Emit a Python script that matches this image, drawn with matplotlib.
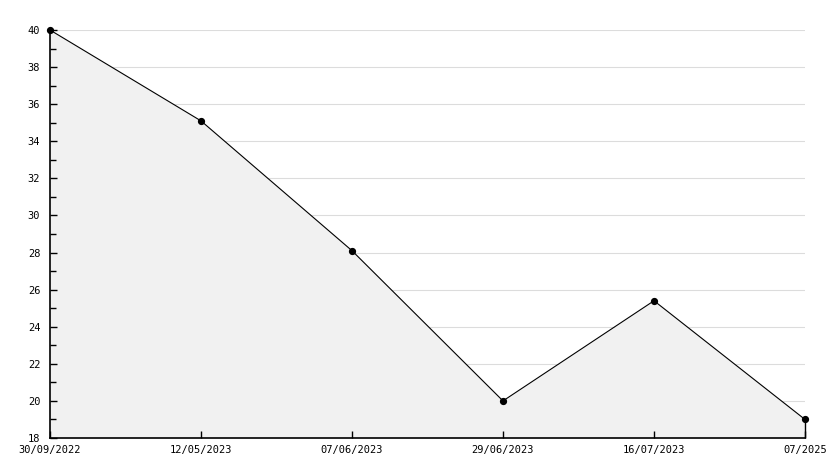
import matplotlib
matplotlib.use("Agg")
import matplotlib.pyplot as plt
from matplotlib.ticker import MultipleLocator

dates = ["30/09/2022", "12/05/2023", "07/06/2023", "29/06/2023", "16/07/2023", "07/2025"]
values = [40, 35.1, 28.1, 20, 25.4, 19.0]

W, H = 834, 468
fig = plt.figure(figsize=(W / 100, H / 100), dpi=100)
ax = fig.add_axes([50 / W, 1 - 438 / H, (805 - 50) / W, (438 - 30) / H])

x = list(range(len(values)))
ax.fill_between(x, values, 18, color="#f1f1f1", zorder=1, linewidth=0)
ax.vlines(x[-1], 18, values[-1], color="black", linewidth=1.0, zorder=3, clip_on=False)
ax.plot(x, values, color="black", linewidth=0.8, marker="o", markersize=4.2,
        markerfacecolor="black", markeredgecolor="black", zorder=3, clip_on=False)

ax.set_xlim(0, len(values) - 1)
ax.set_ylim(18, 40)
ax.yaxis.set_major_locator(MultipleLocator(2))
ax.yaxis.set_minor_locator(MultipleLocator(1))
for yv in ax.get_yticks():
    if 18 < yv <= 40:
        ax.axhline(yv, color="#dcdcdc", linewidth=0.8, zorder=0.5)

ax.set_xticks(x)
ax.set_xticklabels(dates)
for s in ["top", "right"]:
    ax.spines[s].set_visible(False)
for s in ["left", "bottom"]:
    ax.spines[s].set_linewidth(1.2)
    ax.spines[s].set_zorder(4)

ax.tick_params(axis="both", which="major", direction="in", length=5, width=1,
               labelsize=7.5)
ax.tick_params(axis="y", which="minor", direction="in", length=4, width=1)
ax.tick_params(axis="y", pad=7)
ax.tick_params(axis="x", pad=5)
for lab in ax.get_xticklabels() + ax.get_yticklabels():
    lab.set_family("DejaVu Sans Mono")

fig.savefig("out.png", dpi=100)
